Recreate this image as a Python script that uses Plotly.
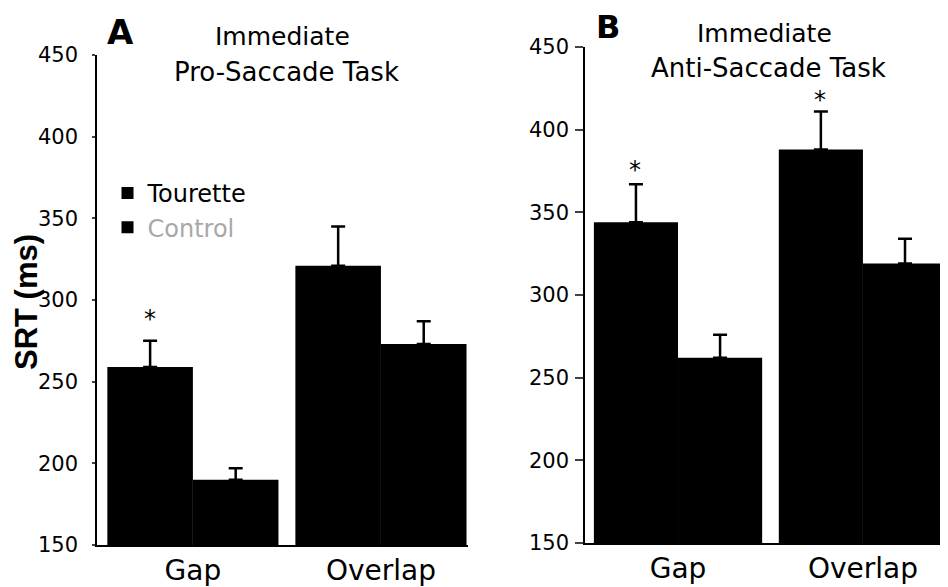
import plotly.graph_objects as go

categories = ["Gap", "Overlap"]
pro_tourette = [259, 321]
pro_tourette_err = [16, 24]
pro_control = [190, 273]
pro_control_err = [7, 14]
anti_tourette = [344, 388]
anti_tourette_err = [23, 23]
anti_control = [262, 319]
anti_control_err = [14, 15]
y_ticks = [150, 200, 250, 300, 350, 400, 450]
sig_pro = [True, False]
sig_anti = [True, True]

# page body has an 8px margin; figure sized/positioned to compensate
OFF = 8
W, H = 940, 579
FONT = "DejaVu Sans"


def px(x):
    return (x - OFF) / W


def py(y):
    return 1 - (y - OFF) / H


def bar(x, y, err, name, xa, ya, show, group):
    return go.Bar(
        x=x, y=y, name=name, xaxis=xa, yaxis=ya, showlegend=show,
        offsetgroup=group,
        marker=dict(color="black", line=dict(width=0)),
        error_y=dict(type="data", array=err, arrayminus=[0] * len(err),
                     symmetric=False, color="black", thickness=2.5, width=7),
    )


fig = go.Figure()
fig.add_trace(bar(categories, pro_tourette, pro_tourette_err, "Tourette", "x", "y", True, "t"))
fig.add_trace(bar(categories, pro_control, pro_control_err,
                  '<span style="color:#a8a8a8">Control</span>', "x", "y", True, "c"))
fig.add_trace(bar(categories, anti_tourette, anti_tourette_err, "Tourette", "x2", "y2", False, "t"))
fig.add_trace(bar(categories, anti_control, anti_control_err, "Control", "x2", "y2", False, "c"))

axis_common = dict(showline=True, linecolor="black", linewidth=1.5, showgrid=False,
                   zeroline=False, mirror=False, automargin=False)

fig.update_layout(
    width=W, height=H,
    margin=dict(l=0, r=0, t=0, b=0, autoexpand=False),
    paper_bgcolor="white", plot_bgcolor="white",
    barmode="group", bargap=0.09, bargroupgap=0,
    font=dict(family=FONT, color="black", size=21),
    xaxis=dict(domain=[px(97), px(468)], anchor="y", range=[-0.51, 1.463],
               ticks="", tickfont=dict(size=28), ticklabelstandoff=0, **axis_common),
    yaxis=dict(domain=[py(545), py(55)], anchor="x", range=[150, 450],
               tickvals=y_ticks, ticks="outside", ticklen=3, tickwidth=1.5,
               tickfont=dict(size=21), ticklabelstandoff=10, **axis_common),
    xaxis2=dict(domain=[px(585), 1.0], anchor="y2", range=[-0.503, 1.46],
                ticks="", tickfont=dict(size=28), ticklabelstandoff=0, **axis_common),
    yaxis2=dict(domain=[py(543), py(47)], anchor="x2", range=[150, 450],
                tickvals=y_ticks, ticks="outside", ticklen=8, tickwidth=1.5,
                tickfont=dict(size=21), ticklabelstandoff=2, **axis_common),
    legend=dict(x=px(107.5), y=py(171), xanchor="left", yanchor="top",
                bgcolor="rgba(0,0,0,0)", font=dict(size=24),
                itemclick=False),
    showlegend=True,
)

ann = []


def txt(text, x, y, size, family=FONT, textangle=0):
    ann.append(dict(text=text, x=px(x), y=py(y), xref="paper", yref="paper",
                    xanchor="center", yanchor="middle", showarrow=False,
                    textangle=textangle, font=dict(size=size, family=family)))


txt("<b>A</b>", 120, 32, 34)
txt("<b>B</b>", 608, 27, 32)
txt("Immediate", 282, 36, 25)
txt("Pro-Saccade Task", 286, 72, 26)
txt("Immediate", 764, 34, 25)
txt("Anti-Saccade Task", 768, 68, 26)
txt("<b>SRT (ms)</b>", 26, 302, 31, family="Liberation Sans", textangle=-90)

star_shift_pro = [6, 0]
star_shift_anti = [-2, -5]
for i, s in enumerate(sig_pro):
    if s:
        ann.append(dict(text="*", x=i, y=pro_tourette[i] + pro_tourette_err[i], xref="x", yref="y",
                        xanchor="center", xshift=-43, yshift=star_shift_pro[i], yanchor="bottom",
                        showarrow=False, font=dict(size=24)))
for i, s in enumerate(sig_anti):
    if s:
        ann.append(dict(text="*", x=i, y=anti_tourette[i] + anti_tourette_err[i], xref="x2", yref="y2",
                        xanchor="center", xshift=-43, yshift=star_shift_anti[i], yanchor="bottom",
                        showarrow=False, font=dict(size=24)))

fig.update_layout(annotations=ann)
fig.write_html("out.html")
